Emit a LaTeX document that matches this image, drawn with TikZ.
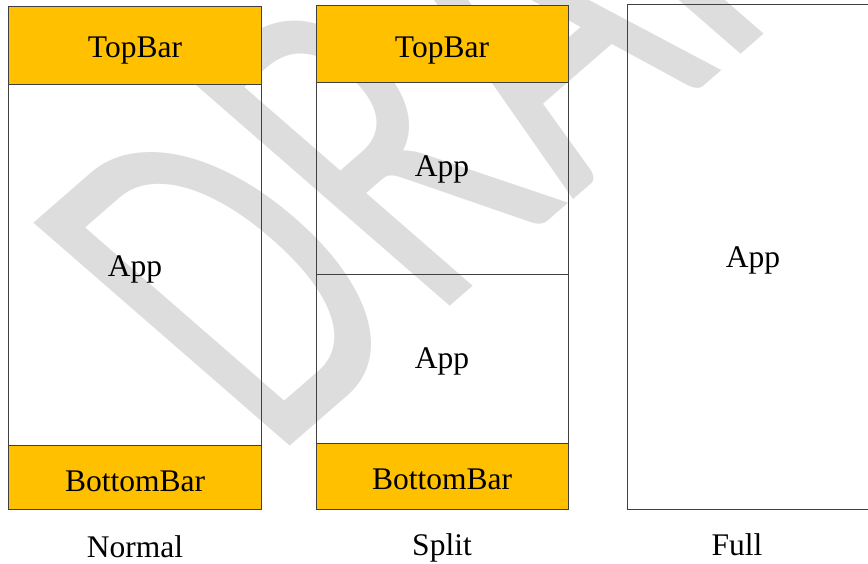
\documentclass[tikz,border=0pt]{standalone}
\usepackage{fontspec}
\usepackage{graphicx}
\setmainfont{Liberation Serif}
\newfontfamily\wmfont{Carlito}
\definecolor{barorange}{HTML}{FFC000}
\definecolor{wmgray}{HTML}{DDDDDD}
\definecolor{edgegray}{HTML}{404040}
\begin{document}
\begin{tikzpicture}[x=1pt,y=-1pt,
  bar/.style={draw=edgegray, fill=barorange, line width=1pt, rectangle, inner sep=0pt},
  appbox/.style={draw=edgegray, line width=1pt, rectangle, inner sep=0pt},
  lbl/.style={font=\fontsize{31.5}{36}\selectfont, anchor=base, inner sep=0pt},
  wmark/.style={text=wmgray, anchor=base west, inner sep=0pt, rotate=45, transform shape,
    font=\wmfont\fontsize{565}{565}\selectfont}
]
\useasboundingbox (0,0) rectangle (868,564);
\clip (0,0) rectangle (868,564);
% watermark
\begin{scope}[shift={(272,462)}, yscale=0.87]
\node[wmark] (wm) at (0,0) {\scalebox{0.65}[1]{DRAFT}};
\end{scope}
% Normal
\node[appbox, minimum width=253pt, minimum height=360pt] (appN) at (134.5,265) {};
\node[bar, minimum width=253pt, minimum height=78pt] (topN) at (134.5,46) {};
\node[bar, minimum width=253pt, minimum height=64pt] (botN) at (134.5,477) {};
% Split
\node[appbox, minimum width=252pt, minimum height=192pt] (appSa) at (442,179) {};
\node[appbox, minimum width=252pt, minimum height=168pt] (appSb) at (442,359) {};
\node[bar, minimum width=252pt, minimum height=77pt] (topS) at (442,44.5) {};
\node[bar, minimum width=252pt, minimum height=66pt] (botS) at (442,476) {};
% Full
\node[appbox, minimum width=273pt, minimum height=504pt] (appF) at (763.5,257) {};
% texts
\node[lbl] (tTopN) at (135,58) {TopBar};
\node[lbl] (tAppN) at (135,277) {App};
\node[lbl] (tBotN) at (135,491) {BottomBar};
\node[lbl] (tNormal) at (135,557) {Normal};
\node[lbl] (tTopS) at (442,58) {TopBar};
\node[lbl] (tAppSa) at (442,177) {App};
\node[lbl] (tAppSb) at (442,368) {App};
\node[lbl] (tBotS) at (442,489) {BottomBar};
\node[lbl] (tSplit) at (442,555) {Split};
\node[lbl] (tAppF) at (753,268) {App};
\node[lbl] (tFull) at (737,555) {Full};
\end{tikzpicture}
\end{document}
